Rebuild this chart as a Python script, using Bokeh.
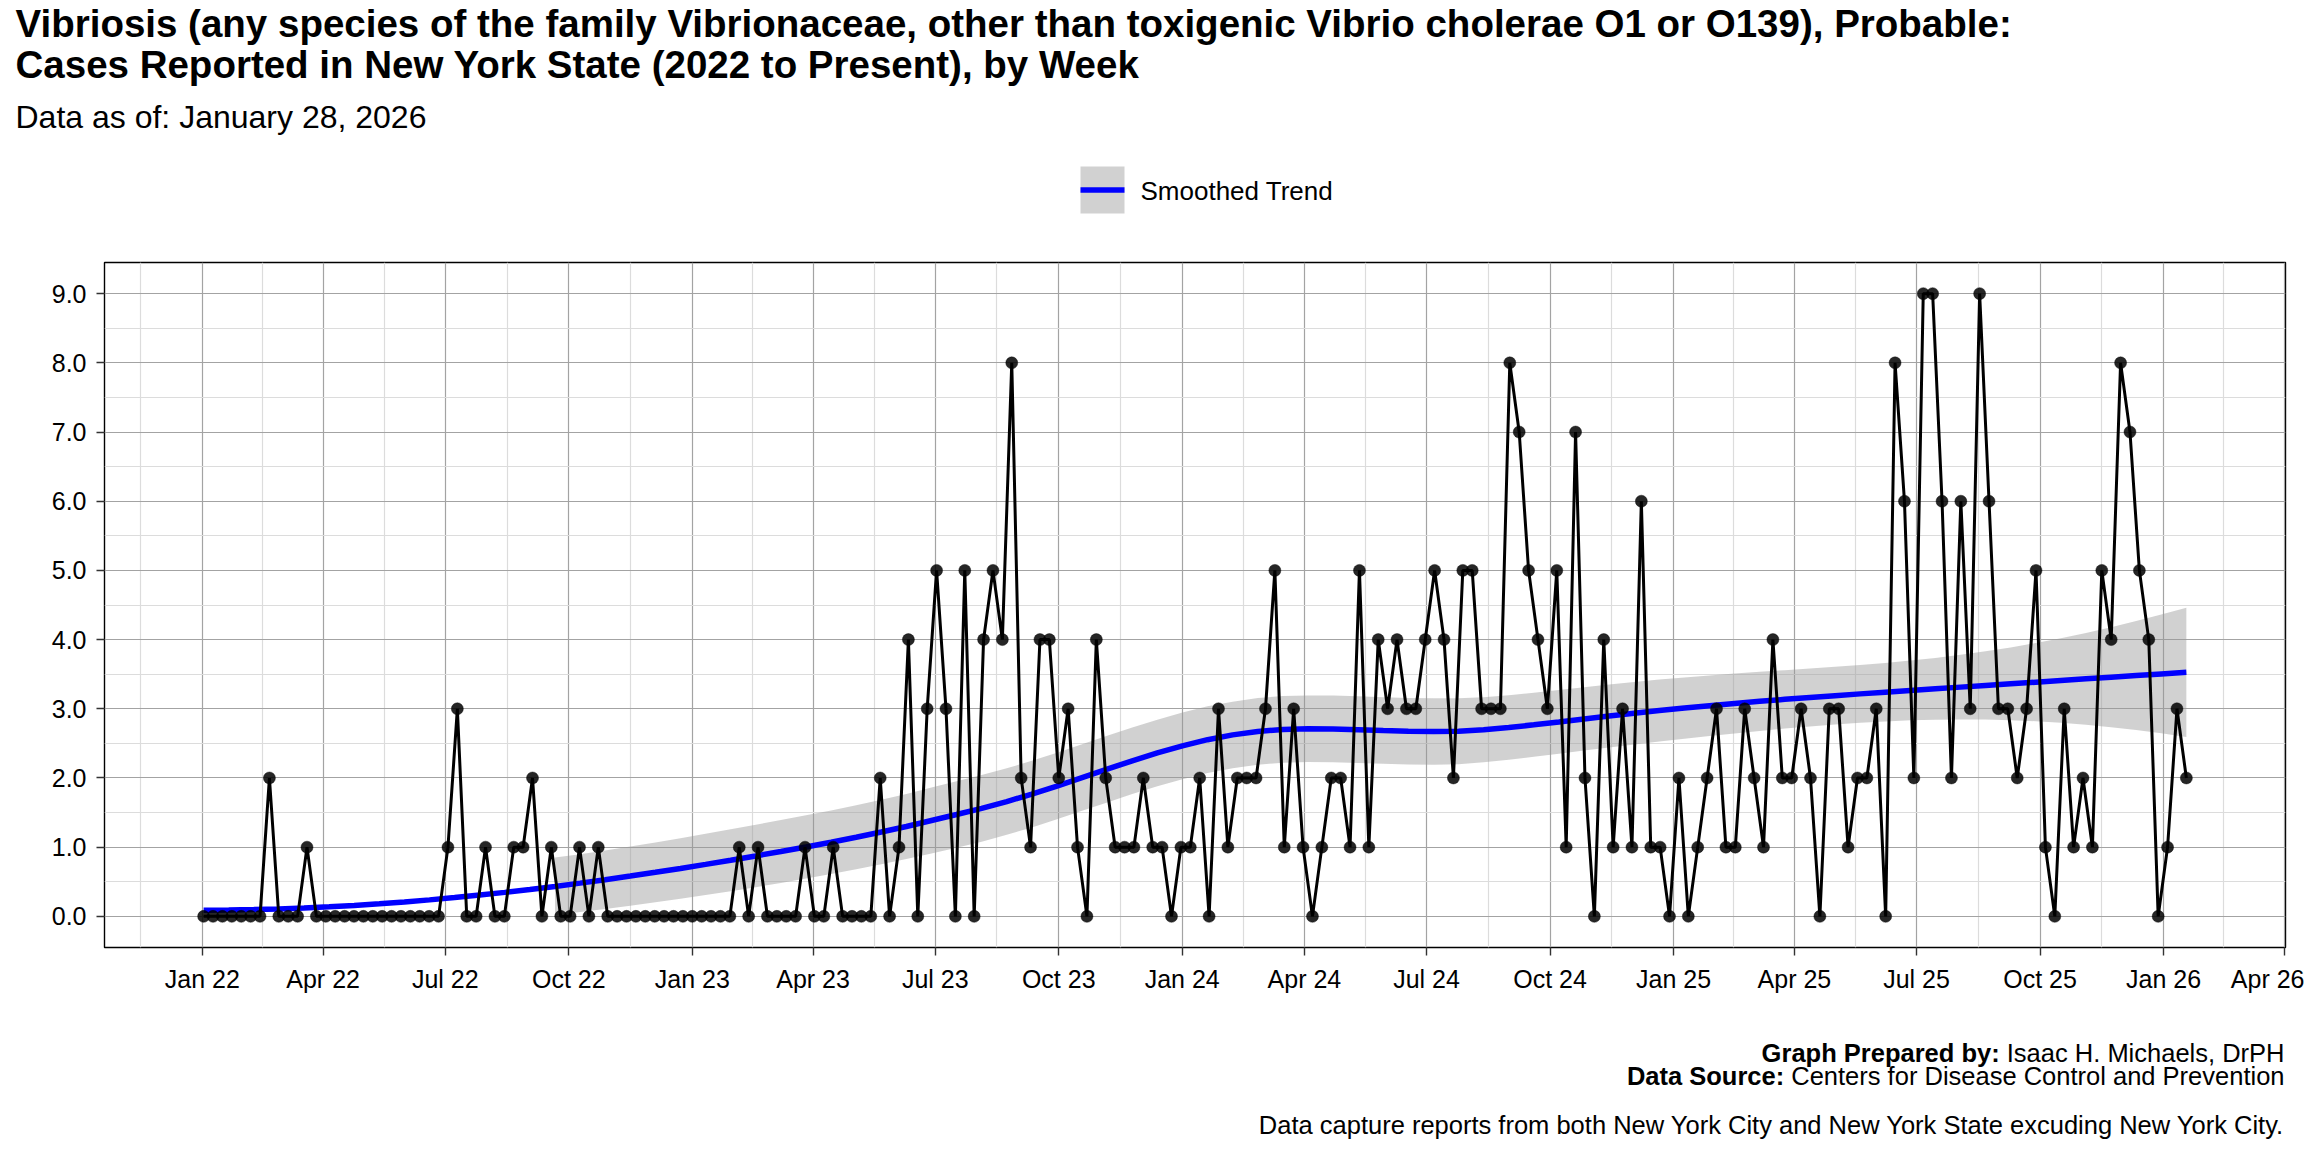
import numpy as np
import pandas as pd
from bokeh.plotting import figure
from bokeh.layouts import column
from bokeh.models import (Range1d, FixedTicker, DatetimeTickFormatter, PrintfTickFormatter,
                          Label, ColumnDataSource)
from bokeh.embed import file_html
from bokeh.resources import INLINE

# ---------------- data ----------------
TITLE_1 = "Vibriosis (any species of the family Vibrionaceae, other than toxigenic Vibrio cholerae O1 or O139), Probable:"
TITLE_2 = "Cases Reported in New York State (2022 to Present), by Week"
SUBTITLE = "Data as of: January 28, 2026"
LEGEND_LABEL = "Smoothed Trend"
CAPTION_BOLD = ["Graph Prepared by:", "Data Source:"]
CAPTION_TEXT = ["Isaac H. Michaels, DrPH", "Centers for Disease Control and Prevention"]
NOTE = "Data capture reports from both New York City and New York State excuding New York City."

FIRST_WEEK = "2022-01-02"   # first MMWR week start

cases_2022 = [0, 0, 0, 0, 0, 0, 0, 2, 0, 0, 0, 1, 0, 0, 0, 0, 0, 0, 0, 0,
              0, 0, 0, 0, 0, 0, 1, 3, 0, 0, 1, 0, 0, 1, 1, 2, 0, 1, 0, 0,
              1, 0, 1, 0, 0, 0, 0, 0, 0, 0, 0, 0]
cases_2023 = [0, 0, 0, 0, 0, 1, 0, 1, 0, 0, 0, 0, 1, 0, 0, 1, 0, 0, 0, 0,
              2, 0, 1, 4, 0, 3, 5, 3, 0, 5, 0, 4, 5, 4, 8, 2, 1, 4, 4, 2,
              3, 1, 0, 4, 2, 1, 1, 1, 2, 1, 1, 0]
cases_2024 = [1, 1, 2, 0, 3, 1, 2, 2, 2, 3, 5, 1, 3, 1, 0, 1, 2, 2, 1, 5,
              1, 4, 3, 4, 3, 3, 4, 5, 4, 2, 5, 5, 3, 3, 3, 8, 7, 5, 4, 3,
              5, 1, 7, 2, 0, 4, 1, 3, 1, 6, 1, 1]
cases_2025 = [0, 2, 0, 1, 2, 3, 1, 1, 3, 2, 1, 4, 2, 2, 3, 2, 0, 3, 3, 1,
              2, 2, 3, 0, 8, 6, 2, 9, 9, 6, 2, 6, 3, 9, 6, 3, 3, 2, 3, 5,
              1, 0, 3, 1, 2, 1, 5, 4, 8, 7, 5, 4, 0]
cases_2026 = [1, 3, 2]

x_tick_dates = ["2022-01-01", "2022-04-01", "2022-07-01", "2022-10-01",
                "2023-01-01", "2023-04-01", "2023-07-01", "2023-10-01",
                "2024-01-01", "2024-04-01", "2024-07-01", "2024-10-01",
                "2025-01-01", "2025-04-01", "2025-07-01", "2025-10-01",
                "2026-01-01", "2026-04-01"]
y_ticks = [0, 1, 2, 3, 4, 5, 6, 7, 8, 9]
Y_LIMITS = (0, 9)

# ---------------- prep ----------------
cases = np.array(cases_2022 + cases_2023 + cases_2024 + cases_2025 + cases_2026, dtype=float)
n = len(cases)
base = pd.Timestamp(FIRST_WEEK)
days = 7.0 * np.arange(n)
dates = base + pd.to_timedelta(days, unit="D")

EPOCH = pd.Timestamp("1970-01-01")
def ms(ts):
    return (pd.Timestamp(ts) - EPOCH) / pd.Timedelta(milliseconds=1)


# loess (degree 2, span 0.75, tricube) as used by geom_smooth
def loess(x, y, xe, span=0.75):
    m = len(x)
    q = int(np.floor(m * span))

    def row(x0):
        d = np.abs(x - x0)
        h = np.sort(d)[q - 1]
        u = np.clip(d / h, 0, 1)
        w = (1 - u ** 3) ** 3
        X = np.column_stack([np.ones(m), x - x0, (x - x0) ** 2])
        XtW = X.T * w
        return np.linalg.solve(XtW @ X, XtW)[0]

    L = np.array([row(v) for v in x])
    Le = np.array([row(v) for v in xe])
    fit = Le @ y
    res = y - L @ y
    I_L = np.eye(m) - L
    M = I_L.T @ I_L
    d1 = np.trace(M)
    d2 = np.trace(M @ M)
    s = np.sqrt(res @ res / d1)
    se = s * np.sqrt((Le ** 2).sum(axis=1))
    df = d1 ** 2 / d2
    z = 1.959963985
    t = z + (z ** 3 + z) / (4 * df) + (5 * z ** 5 + 16 * z ** 3 + 3 * z) / (96 * df ** 2)
    return fit, fit - t * se, fit + t * se


xs = days / 365.25
xe_days = np.linspace(days.min(), days.max(), 80)
fit, lo, hi = loess(xs, cases, xe_days / 365.25)
xe_dates = base + pd.to_timedelta(xe_days, unit="D")

valid = (lo >= Y_LIMITS[0]) & (hi <= Y_LIMITS[1])
first_valid = int(np.argmax(valid))
band_src = ColumnDataSource(dict(x=xe_dates[first_valid:], lo=lo[first_valid:], hi=hi[first_valid:]))
fit_src = ColumnDataSource(dict(x=xe_dates, y=fit))
data_src = ColumnDataSource(dict(x=dates, y=cases))

span_days = days.max() - days.min()
x_start = ms(base + pd.Timedelta(days=days.min() - 0.05 * span_days))
x_end = ms(base + pd.Timedelta(days=days.max() + 0.05 * span_days))
yr = Y_LIMITS[1] - Y_LIMITS[0]
y_start = Y_LIMITS[0] - 0.05 * yr
y_end = Y_LIMITS[1] + 0.05 * yr

# ---------------- layout (image px, page origin = image origin) ----------------
W = 2304
HEAD_H, MAIN_H, FOOT_H = 252, 748, 152      # header: y 0..252, main: 252..1000, footer: 1000..1152
FL, FR, FT, FB = 104, 19, 10, 53            # main frame -> x 104..2285, y 262..947
FONT = "Liberation Sans"
BAND_COLOR, BAND_ALPHA = "#999999", 0.45
TREND_COLOR, TREND_W = "#0000FF", 5.5


def text_panel(h, y0):
    f = figure(width=W, height=h, output_backend="svg", toolbar_location=None,
               x_range=Range1d(0, W), y_range=Range1d(y0 + h, y0),
               x_axis_location=None, y_axis_location=None,
               min_border_left=0, min_border_right=0, min_border_top=0, min_border_bottom=0)
    f.frame_align = False
    f.title.visible = False
    f.grid.visible = False
    f.outline_line_color = None
    f.background_fill_color = "white"
    f.border_fill_color = "white"
    return f


def add_text(f, txt, ox, oy, size, bold=False, align="left"):
    f.add_layout(Label(x=ox, y=oy, text=txt, text_font=FONT, text_font_size=f"{size}px",
                       text_font_style="bold" if bold else "normal",
                       text_color="black", text_align=align, text_baseline="middle"))


# ---- header (y = text middle) ----
head = text_panel(HEAD_H, 0)
add_text(head, TITLE_1, 15, 22.5, 38.5, bold=True)
add_text(head, TITLE_2, 15, 63.5, 38.5, bold=True)
add_text(head, SUBTITLE, 15, 116, 32)
# legend key: ribbon box + trend line + label
head.quad(left=[1080], right=[1124], top=[166], bottom=[213], fill_color=BAND_COLOR,
          fill_alpha=BAND_ALPHA, line_color=None)
head.line(x=[1080, 1124], y=[189.5, 189.5], line_color=TREND_COLOR, line_width=TREND_W)
add_text(head, LEGEND_LABEL, 1140, 190, 26)

# ---- main plot ----
p = figure(width=W, height=MAIN_H, x_axis_type="datetime", output_backend="svg",
           toolbar_location=None, x_range=Range1d(x_start, x_end),
           y_range=Range1d(y_start, y_end),
           min_border_left=FL, min_border_right=FR, min_border_top=FT, min_border_bottom=FB)
p.frame_align = False
p.title.visible = False
p.background_fill_color = "white"
p.border_fill_color = "white"
p.outline_line_color = "black"
p.outline_line_width = 1.4

major_ms = [ms(d) for d in x_tick_dates]
q_all = [pd.Timestamp("2021-10-01")] + [pd.Timestamp(d) for d in x_tick_dates] + [pd.Timestamp("2026-07-01")]
minor_ms = [(ms(a) + ms(b)) / 2 for a, b in zip(q_all[:-1], q_all[1:])]
xticker = FixedTicker(ticks=major_ms, minor_ticks=minor_ms)
yticker = FixedTicker(ticks=y_ticks, minor_ticks=[v + 0.5 for v in y_ticks[:-1]])

fmt = "%b %y"
p.xaxis.ticker = xticker
p.xaxis.formatter = DatetimeTickFormatter(microseconds=fmt, milliseconds=fmt, seconds=fmt, minsec=fmt,
                                          minutes=fmt, hourmin=fmt, hours=fmt, days=fmt,
                                          months=fmt, years=fmt)
p.yaxis.ticker = yticker
p.yaxis.formatter = PrintfTickFormatter(format="%.1f")

for ax in (p.xaxis, p.yaxis):
    ax.axis_line_color = None
    ax.major_tick_line_color = "#333333"
    ax.major_tick_line_width = 1.4
    ax.major_tick_out = 8
    ax.major_tick_in = 0
    ax.minor_tick_out = 0
    ax.minor_tick_in = 0
    ax.major_label_text_font = FONT
    ax.major_label_text_font_size = "25px"
    ax.major_label_text_color = "black"
p.xaxis.major_label_standoff = 9
p.yaxis.major_label_standoff = 10

p.xgrid.ticker = xticker
p.ygrid.ticker = yticker
for g in (p.xgrid, p.ygrid):
    g.grid_line_color = "#a3a3a3"
    g.grid_line_width = 1.2
    g.minor_grid_line_color = "#dcdcdc"
    g.minor_grid_line_width = 1.2

p.varea(x="x", y1="lo", y2="hi", source=band_src, fill_color=BAND_COLOR, fill_alpha=BAND_ALPHA)
p.line(x="x", y="y", source=fit_src, line_color=TREND_COLOR, line_width=TREND_W)
p.line(x="x", y="y", source=data_src, line_color="black", line_width=3)
p.scatter(x="x", y="y", source=data_src, size=12, fill_color="black", fill_alpha=0.85,
          line_color="black", line_alpha=0.85, line_width=0.5)

# ---- footer ----
ARIAL = {" ": 278, ",": 278, ".": 278, ":": 278, "(": 333, ")": 333,
         "A": 667, "B": 667, "C": 722, "D": 722, "E": 667, "F": 611, "G": 778, "H": 722, "I": 278,
         "J": 500, "K": 667, "L": 556, "M": 833, "N": 722, "O": 778, "P": 667, "Q": 778, "R": 722,
         "S": 667, "T": 611, "U": 722, "V": 667, "W": 944, "X": 667, "Y": 667, "Z": 611,
         "a": 556, "b": 556, "c": 500, "d": 556, "e": 556, "f": 278, "g": 556, "h": 556, "i": 222,
         "j": 222, "k": 500, "l": 222, "m": 833, "n": 556, "o": 556, "p": 556, "q": 556, "r": 333,
         "s": 500, "t": 278, "u": 556, "v": 500, "w": 722, "x": 500, "y": 500, "z": 500}


def text_width(s, size):
    return sum(ARIAL.get(c, 556) for c in s) / 1000.0 * size


foot = text_panel(FOOT_H, 1000)
CAP = 25.5
RIGHT = 2284
for i, (b, t) in enumerate(zip(CAPTION_BOLD, CAPTION_TEXT)):
    oy = 1052 + 23 * i
    add_text(foot, t, RIGHT, oy, CAP, align="right")
    add_text(foot, b, RIGHT - text_width(" " + t, CAP), oy, CAP, bold=True, align="right")
add_text(foot, NOTE, RIGHT, 1124, CAP, align="right")

page = column(head, p, foot, spacing=0)
open("out.html", "w").write(file_html(page, INLINE))
